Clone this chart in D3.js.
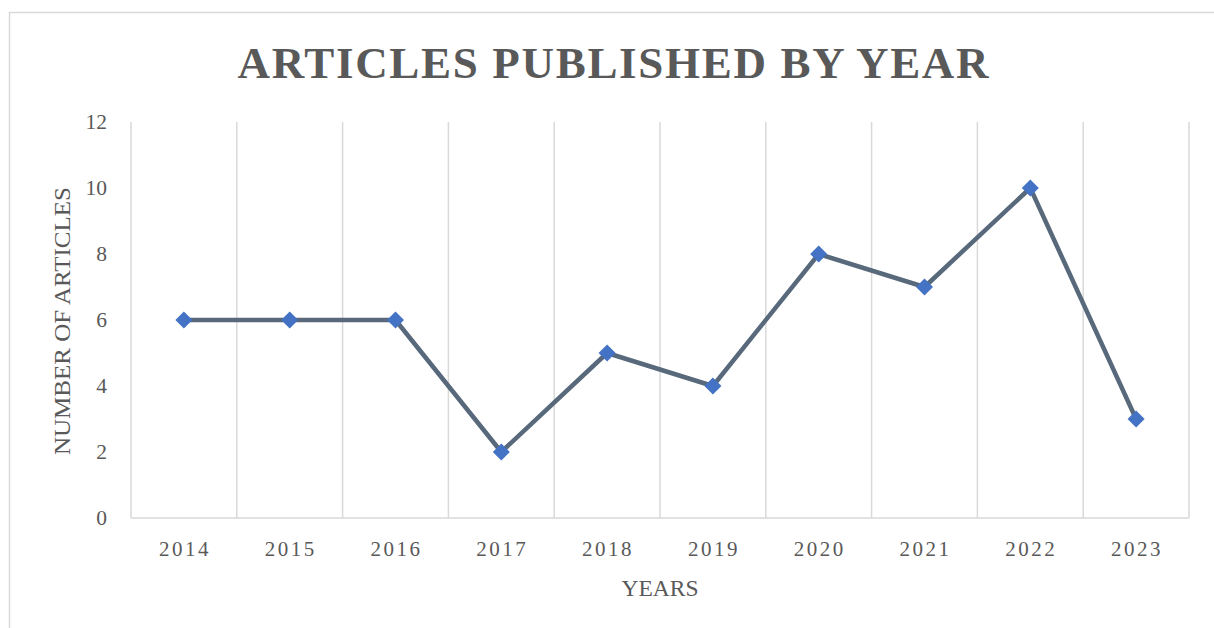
<!DOCTYPE html>
<html>
<head>
<meta charset="utf-8">
<script src="https://cdn.jsdelivr.net/npm/d3@7"></script>
<style>
  body { margin: 0; background: #fff; }
  text { font-family: "Liberation Serif", "DejaVu Serif", serif; fill: #595959; }
</style>
</head>
<body>
<script>
// chart data
var years = ["2014", "2015", "2016", "2017", "2018", "2019", "2020", "2021", "2022", "2023"];
var articles = [6, 6, 6, 2, 5, 4, 8, 7, 10, 3];
var yTicks = [0, 2, 4, 6, 8, 10, 12];

var W = 1214, H = 628;
var plot = {left: 131, right: 1189, top: 122, bottom: 518};

var svg = d3.select("body").append("svg")
    .attr("width", W)
    .attr("height", H);

// chart frame
svg.append("rect")
    .attr("x", 9.5).attr("y", 12.5)
    .attr("width", W + 20).attr("height", H + 20)
    .style("fill", "none")
    .style("stroke", "#d9d9d9")
    .style("stroke-width", 1.5);

var x = d3.scaleBand().domain(years).range([plot.left, plot.right]).padding(0);
var y = d3.scaleLinear().domain([0, 12]).range([plot.bottom, plot.top]);

// vertical gridlines at category boundaries
var bounds = years.map(function(d){ return x(d); }).concat([plot.right]);
svg.append("g").selectAll("line")
    .data(bounds)
    .enter().append("line")
    .attr("x1", function(d){ return d; })
    .attr("x2", function(d){ return d; })
    .attr("y1", plot.top)
    .attr("y2", plot.bottom)
    .style("stroke", "#d9d9d9")
    .style("stroke-width", 1.5);

// x axis line
svg.append("line")
    .attr("x1", plot.left).attr("x2", plot.right)
    .attr("y1", plot.bottom).attr("y2", plot.bottom)
    .style("stroke", "#d9d9d9")
    .style("stroke-width", 1.5);

// x tick labels
svg.append("g").selectAll("text")
    .data(years)
    .enter().append("text")
    .attr("x", function(d){ return x(d) + x.bandwidth() / 2 + 1; })
    .attr("y", 556)
    .attr("text-anchor", "middle")
    .style("font-size", "21px")
    .style("letter-spacing", "2.5px")
    .text(function(d){ return d; });

// y tick labels
svg.append("g").selectAll("text")
    .data(yTicks)
    .enter().append("text")
    .attr("x", 107)
    .attr("y", function(d){ return y(d); })
    .attr("dy", "0.34em")
    .attr("text-anchor", "end")
    .style("font-size", "21.5px")
    .text(function(d){ return d; });

// title
svg.append("text")
    .attr("x", 613)
    .attr("y", 78)
    .attr("text-anchor", "middle")
    .attr("textLength", 751)
    .attr("lengthAdjust", "spacing")
    .style("font-size", "45px")
    .style("font-weight", "bold")
    .text("ARTICLES PUBLISHED BY YEAR");

// axis titles
svg.append("text")
    .attr("x", 660)
    .attr("y", 596)
    .attr("text-anchor", "middle")
    .style("font-size", "23.5px")
    .text("YEARS");

svg.append("text")
    .attr("transform", "translate(70,321) rotate(-90)")
    .attr("text-anchor", "middle")
    .attr("textLength", 268)
    .attr("lengthAdjust", "spacingAndGlyphs")
    .style("font-size", "23px")
    .text("NUMBER OF ARTICLES");

// series line
var line = d3.line()
    .x(function(d, i){ return x(years[i]) + x.bandwidth() / 2; })
    .y(function(d){ return y(d); });

svg.append("path")
    .datum(articles)
    .attr("d", line)
    .style("fill", "none")
    .style("stroke", "#57697b")
    .style("stroke-width", 4.5)
    .style("stroke-linejoin", "round");

// diamond markers
var diamond = d3.symbol().type(d3.symbolSquare).size(145);
svg.append("g").selectAll("path")
    .data(articles)
    .enter().append("path")
    .attr("d", diamond)
    .attr("transform", function(d, i){
        return "translate(" + (x(years[i]) + x.bandwidth() / 2) + "," + y(d) + ") rotate(45)";
    })
    .style("fill", "#4472c4");
</script>
</body>
</html>
